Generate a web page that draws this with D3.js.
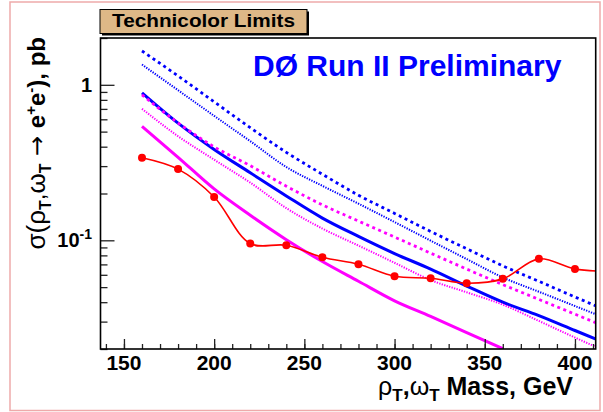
<!DOCTYPE html>
<html>
<head>
<meta charset="utf-8">
<script src="https://cdn.jsdelivr.net/npm/d3@7"></script>
<style>
  body { margin: 0; background: #fff; }
  text { font-family: "Liberation Sans", Arial, sans-serif; }
</style>
</head>
<body>
<svg id="chart"></svg>
<script>
// masses (GeV) where the limits were evaluated
var mass = [160, 180, 200, 220, 240, 260, 280, 300, 320, 340, 360, 380, 400, 420];

// observed limit (red points)
var observed = [0.340, 0.287, 0.190, 0.0953, 0.0929, 0.0778, 0.0701, 0.0587, 0.0570, 0.0530, 0.0565, 0.0760, 0.0655, 0.063];

// model cross sections / expected limits
var blueDashed = [1.65, 1.14, 0.777, 0.530, 0.368, 0.266, 0.195, 0.149, 0.114, 0.0882, 0.0685, 0.0545, 0.0432, 0.0345];
var blueDotted = [1.35, 0.923, 0.631, 0.434, 0.296, 0.224, 0.172, 0.131, 0.0995, 0.0757, 0.0577, 0.0467, 0.0378, 0.0306];
var blueSolid = [0.888, 0.567, 0.384, 0.272, 0.193, 0.139, 0.106, 0.0822, 0.0653, 0.0508, 0.0400, 0.0328, 0.0263, 0.0211];
var magentaDashed = [0.862, 0.569, 0.399, 0.302, 0.223, 0.169, 0.133, 0.105, 0.0827, 0.0653, 0.0519, 0.0417, 0.0335, 0.0269];
var magentaDotted = [0.701, 0.467, 0.330, 0.235, 0.161, 0.119, 0.0925, 0.0717, 0.0555, 0.0463, 0.0386, 0.0303, 0.0237, 0.0187];
var magentaSolid = [0.541, 0.342, 0.214, 0.145, 0.101, 0.073, 0.0545, 0.0408, 0.0324, 0.0255, 0.0201];

var xMajor = [150, 200, 250, 300, 350, 400];
var xMinor = d3.range(140, 411, 10);
var yMajor = [0.1, 1];
var yMajorLabels = [["10", "-1"], ["1", ""]];

var width = 603, height = 412;
var plotLeft = 100.5, plotRight = 595.7, plotTop = 38, plotBottom = 349;

var svg = d3.select("#chart")
  .attr("width", width)
  .attr("height", height);

var x = d3.scaleLinear().domain([137, 411.5]).range([plotLeft, plotRight]);
var y = d3.scaleLog().domain([0.02, 2]).range([plotBottom, plotTop]);

// pink page border
svg.append("rect")
  .attr("x", 10).attr("y", 2)
  .attr("width", 590).attr("height", 408.5)
  .style("fill", "none")
  .style("stroke", "#eeaaaa")
  .style("stroke-width", 1.5);

svg.append("defs").append("clipPath")
  .attr("id", "plot-clip")
  .append("rect")
    .attr("x", plotLeft).attr("y", plotTop)
    .attr("width", plotRight - plotLeft).attr("height", plotBottom - plotTop);

var plot = svg.append("g").attr("clip-path", "url(#plot-clip)");

function drawCurve(values, color, w, dash) {
  var pts = values.map(function (v, i) { return [mass[i], v]; });
  plot.append("path")
    .datum(pts)
    .attr("d", d3.line()
      .x(function (d) { return x(d[0]); })
      .y(function (d) { return y(d[1]); })
      .curve(d3.curveMonotoneX))
    .style("fill", "none")
    .style("stroke", color)
    .style("stroke-width", w)
    .style("stroke-dasharray", dash);
}

drawCurve(blueDashed, "#0000ff", 2.8, "3,3.5");
drawCurve(blueDotted, "#0000ff", 2, "1.3,1.3");
drawCurve(blueSolid, "#0000ff", 3, null);
drawCurve(magentaDashed, "#ff00ff", 2.8, "3,3.5");
drawCurve(magentaDotted, "#ff00ff", 2, "1.3,1.3");
drawCurve(magentaSolid, "#ff00ff", 3, null);

// observed limit, smooth curve through the points
var obsPts = observed.map(function (v, i) { return [mass[i], v]; });
plot.append("path")
  .datum(obsPts)
  .attr("d", d3.line()
    .x(function (d) { return x(d[0]); })
    .y(function (d) { return y(d[1]); })
    .curve(d3.curveCatmullRom.alpha(0.5)))
  .style("fill", "none")
  .style("stroke", "#ff0000")
  .style("stroke-width", 1.6);

plot.selectAll("circle.obs")
  .data(obsPts)
  .enter().append("circle")
    .attr("class", "obs")
    .attr("cx", function (d) { return x(d[0]); })
    .attr("cy", function (d) { return y(d[1]); })
    .attr("r", 4)
    .style("fill", "#ff0000");

// axes, ticks pointing into the frame
var xAxisMinor = d3.axisBottom(x).tickValues(xMinor).tickSize(-5).tickFormat("");
var xAxisMajor = d3.axisBottom(x).tickValues(xMajor).tickSize(-10).tickFormat("");
[xAxisMinor, xAxisMajor].forEach(function (ax) {
  var g = svg.append("g").attr("transform", "translate(0," + plotBottom + ")").call(ax);
  g.select(".domain").remove();
  g.selectAll("line").style("stroke", "#222").style("stroke-width", 1.3);
});

var yMinor = [];
[0.01, 0.1, 1].forEach(function (dec) {
  for (var k = 2; k <= 9; k++) {
    var v = +(k * dec).toPrecision(3);
    if (v >= 0.02 && v <= 2) yMinor.push(v);
  }
});
var yAxisMinor = d3.axisLeft(y).tickValues(yMinor).tickSize(-7).tickFormat("");
var yAxisMajor = d3.axisLeft(y).tickValues(yMajor).tickSize(-14).tickFormat("");
[yAxisMinor, yAxisMajor].forEach(function (ax) {
  var g = svg.append("g").attr("transform", "translate(" + plotLeft + ",0)").call(ax);
  g.select(".domain").remove();
  g.selectAll("line").style("stroke", "#222").style("stroke-width", 1.3);
});

// frame
svg.append("rect")
  .attr("x", plotLeft).attr("y", plotTop)
  .attr("width", plotRight - plotLeft).attr("height", plotBottom - plotTop)
  .style("fill", "none")
  .style("stroke", "#000")
  .style("stroke-width", 1.6);

// tick labels
svg.selectAll("text.xlab")
  .data(xMajor)
  .enter().append("text")
    .attr("class", "xlab")
    .attr("x", function (d) { return x(d); })
    .attr("y", 370)
    .attr("text-anchor", "middle")
    .style("font-size", "21px")
    .style("font-weight", "bold")
    .text(function (d) { return d; });

var ylab = svg.selectAll("text.ylab")
  .data(yMajor)
  .enter().append("text")
    .attr("class", "ylab")
    .attr("x", 92)
    .attr("y", function (d) { return y(d) + 7; })
    .attr("text-anchor", "end")
    .style("font-size", "20px")
    .style("font-weight", "bold");
ylab.append("tspan").text(function (d, i) { return yMajorLabels[i][0]; });
ylab.append("tspan")
  .attr("dy", -8)
  .style("font-size", "14px")
  .text(function (d, i) { return yMajorLabels[i][1]; });

function richText(sel, parts) {
  parts.forEach(function (p) {
    var t = sel.append("tspan")
      .attr("dy", p.dy || 0)
      .style("font-weight", p.w || "bold")
      .style("font-size", p.s || null)
      .text(p.t);
    if (p.f) t.style("font-family", p.f);
  });
}

// x-axis title
var xTitle = svg.append("text")
  .attr("x", 573).attr("y", 395)
  .attr("text-anchor", "end")
  .style("font-size", "25px");
richText(xTitle, [
  { t: "\u03c1", w: "normal" },
  { t: "T", s: "17px", dy: 6 },
  { t: ",", dy: -6 },
  { t: "\u03c9", w: "normal" },
  { t: "T", s: "17px", dy: 6 },
  { t: " Mass, GeV", dy: -6 }
]);

// y-axis title
var yTitle = svg.append("text")
  .attr("transform", "translate(45,37) rotate(-90)")
  .attr("text-anchor", "end")
  .style("font-size", "24px");
richText(yTitle, [
  { t: "\u03c3(\u03c1", w: "normal", s: "26px" },
  { t: "T", s: "16px", dy: 6 },
  { t: ",", dy: -6, w: "normal" },
  { t: "\u03c9", w: "normal", s: "26px" },
  { t: "T", s: "16px", dy: 6 },
  { t: " \u2192 ", dy: -6, w: "normal", s: "24px", f: "DejaVu Sans" },
  { t: "e" },
  { t: "+", s: "15px", dy: -9 },
  { t: "e", dy: 9 },
  { t: "-", s: "15px", dy: -9 },
  { t: "), pb", dy: 9 }
]);

// title box
svg.append("rect")
  .attr("x", 102).attr("y", 11.5)
  .attr("width", 207).attr("height", 24)
  .style("fill", "#000");
svg.append("rect")
  .attr("x", 100).attr("y", 9.5)
  .attr("width", 207).attr("height", 24)
  .style("fill", "#deb887")
  .style("stroke", "#000")
  .style("stroke-width", 1);
svg.append("text")
  .attr("x", 203.5).attr("y", 27)
  .attr("text-anchor", "middle")
  .attr("textLength", 183)
  .attr("lengthAdjust", "spacingAndGlyphs")
  .style("font-size", "19px")
  .style("font-weight", "bold")
  .text("Technicolor Limits");

// experiment label
svg.append("text")
  .attr("x", 253).attr("y", 76)
  .style("font-size", "30px")
  .style("font-weight", "bold")
  .style("fill", "#0000ff")
  .text("D\u00d8 Run II Preliminary");
</script>
</body>
</html>
